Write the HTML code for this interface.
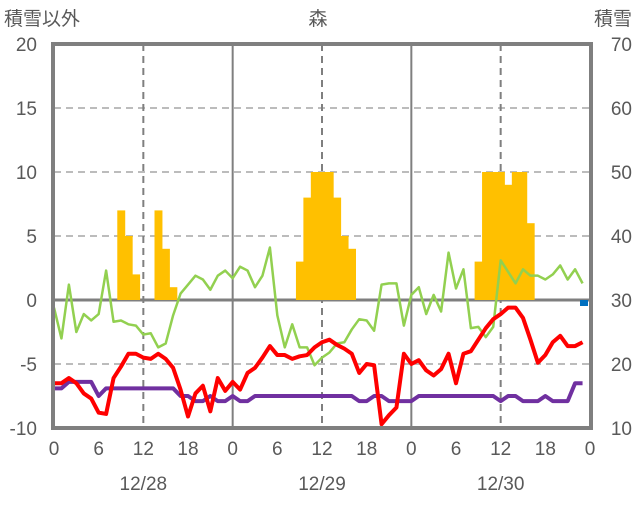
<!DOCTYPE html>
<html><head><meta charset="utf-8"><style>
body{margin:0;background:#fff;}
svg text{font-family:"Liberation Sans","Noto Sans CJK JP",sans-serif;fill:#595959;font-size:19px;}
</style></head><body>
<svg id="chart" width="636" height="501" xmlns="http://www.w3.org/2000/svg">
<g id="grid"></g><g id="bars"></g><g id="lines"></g><g id="frame"></g><g id="labels"></g>
</svg>
<script>
const leftTicks=[20,15,10,5,0,-5,-10];
const rightTicks=[70,60,50,40,30,20,10];
const hourTicks=["0","6","12","18","0","6","12","18","0","6","12","18","0"];
const dateLabels=["12/28","12/29","12/30"];
const barHours=[9,10,11,14,15,16,33,34,35,36,37,38,39,40,57,58,59,60,61,62,63,64];
const barValues=[7,5,2,7,4,1,3,8,10,10,10,8,5,4,3,10,10,10,9,10,10,6];
const greenVals=[-0.6,-3.0,1.2,-2.5,-1.1,-1.6,-1.1,2.3,-1.7,-1.6,-1.9,-2.0,-2.7,-2.6,-3.7,-3.4,-1.2,0.5,1.2,1.9,1.6,0.8,1.9,2.3,1.7,2.6,2.3,1.0,1.9,4.1,-1.2,-3.7,-1.9,-3.7,-3.7,-5.1,-4.5,-4.1,-3.4,-3.3,-2.3,-1.5,-1.6,-2.4,1.2,1.3,1.3,-2.0,0.4,1.0,-1.1,0.4,-0.9,3.7,0.9,2.4,-2.2,-2.1,-2.9,-2.1,3.1,2.2,1.3,2.4,1.9,1.9,1.6,2.0,2.7,1.6,2.4,1.3];
const redVals=[-6.5,-6.5,-6.1,-6.5,-7.3,-7.7,-8.8,-8.9,-6.1,-5.2,-4.2,-4.2,-4.5,-4.6,-4.2,-4.6,-5.3,-7.0,-9.1,-7.3,-6.7,-8.7,-6.1,-7.1,-6.4,-7.0,-5.7,-5.3,-4.5,-3.6,-4.3,-4.3,-4.6,-4.4,-4.3,-3.7,-3.3,-3.1,-3.5,-3.8,-4.2,-5.7,-5.0,-5.1,-9.7,-9.0,-8.4,-4.2,-5.0,-4.7,-5.5,-5.9,-5.4,-4.2,-6.5,-4.2,-4.0,-3.1,-2.2,-1.5,-1.1,-0.6,-0.6,-1.4,-3.1,-4.9,-4.3,-3.3,-2.8,-3.6,-3.6,-3.3];
const purpleVals=[-6.9,-6.9,-6.4,-6.4,-6.4,-6.4,-7.5,-6.9,-6.9,-6.9,-6.9,-6.9,-6.9,-6.9,-6.9,-6.9,-6.9,-7.5,-7.5,-7.9,-7.9,-7.5,-7.9,-7.9,-7.5,-7.9,-7.9,-7.5,-7.5,-7.5,-7.5,-7.5,-7.5,-7.5,-7.5,-7.5,-7.5,-7.5,-7.5,-7.5,-7.5,-7.9,-7.9,-7.5,-7.5,-7.9,-7.9,-7.9,-7.9,-7.5,-7.5,-7.5,-7.5,-7.5,-7.5,-7.5,-7.5,-7.5,-7.5,-7.5,-7.9,-7.5,-7.5,-7.9,-7.9,-7.9,-7.5,-7.9,-7.9,-7.9,-6.5,-6.5];
const X0=54,X1=590,Y0=44,Y1=428;
const xs=h=>X0+h*(X1-X0)/72;
const ys=v=>Y0+(20-v)*(Y1-Y0)/30;
const NS="http://www.w3.org/2000/svg";
function mk(tag,parent,attrs){const e=document.createElementNS(NS,tag);for(const k in attrs)e.setAttribute(k,attrs[k]);document.getElementById(parent).appendChild(e);return e;}
// horizontal grid
leftTicks.forEach(v=>{
 if(v===20||v===-10)return;
 const l=mk('line','grid',{x1:X0,x2:X1,y1:ys(v),y2:ys(v),stroke:v===0?'#7f7f7f':'#a6a6a6','stroke-width':v===0?3:1.5,'stroke-dasharray':v===0?'':'7,5'});
 
 
});
for(let d=0;d<3;d++){
 const l=mk('line','grid',{x1:xs(d*24+12),x2:xs(d*24+12),y1:Y0,y2:Y1,stroke:'#7f7f7f','stroke-width':2,'stroke-dasharray':'7,5'});
 
 
 if(d>0){const s=mk('line','grid',{x1:xs(d*24),x2:xs(d*24),y1:Y0,y2:Y1,stroke:'#7f7f7f','stroke-width':2});
 
 }
}
// bars
barHours.forEach((h,i)=>{
 const w=(X1-X0)/72;
 const r=mk('rect','bars',{x:xs(h)-w/2,y:ys(barValues[i]),width:w+0.5,height:ys(0)-ys(barValues[i]),fill:'#ffc000'});
 
 
});
function line(vals,color,name){
 const p=mk('polyline','lines',{points:vals.map((v,i)=>xs(i)+','+ys(v)).join(' '),fill:'none',stroke:color,'stroke-width':name==='green-line'?2.5:4,'stroke-linejoin':'round'});
 
 
}
line(greenVals,'#92d050','green-line');
line(purpleVals,'#7030a0','purple-line');
line(redVals,'#ff0000','red-line');
const mark=mk('rect','lines',{x:580,y:300,width:8,height:6,fill:'#0070c0'});


const fr=mk('rect','frame',{x:X0-1,y:Y0,width:X1-X0+2,height:Y1-Y0,fill:'none',stroke:'#7f7f7f','stroke-width':4});


function txt(x,y,s,anchor,name){const t=mk('text','labels',{x:x,y:y,'text-anchor':anchor});t.textContent=s;
 
 return t;}
leftTicks.forEach(v=>txt(37,ys(v)+7,String(v),'end','left-tick-label'));
rightTicks.forEach((v,i)=>txt(632,ys(leftTicks[i])+7,String(v),'end','right-tick-label'));
hourTicks.forEach((s,i)=>txt(xs(i*6),455,s,'middle','hour-tick-label'));
dateLabels.forEach((s,i)=>txt(xs(i*24+12),490,s,'middle','date-label'));
txt(4,25,'積雪以外','start','left-axis-title');
txt(632,25,'積雪','end','right-axis-title');
txt(318,25,'森','middle','chart-title');
</script>
</body></html>
